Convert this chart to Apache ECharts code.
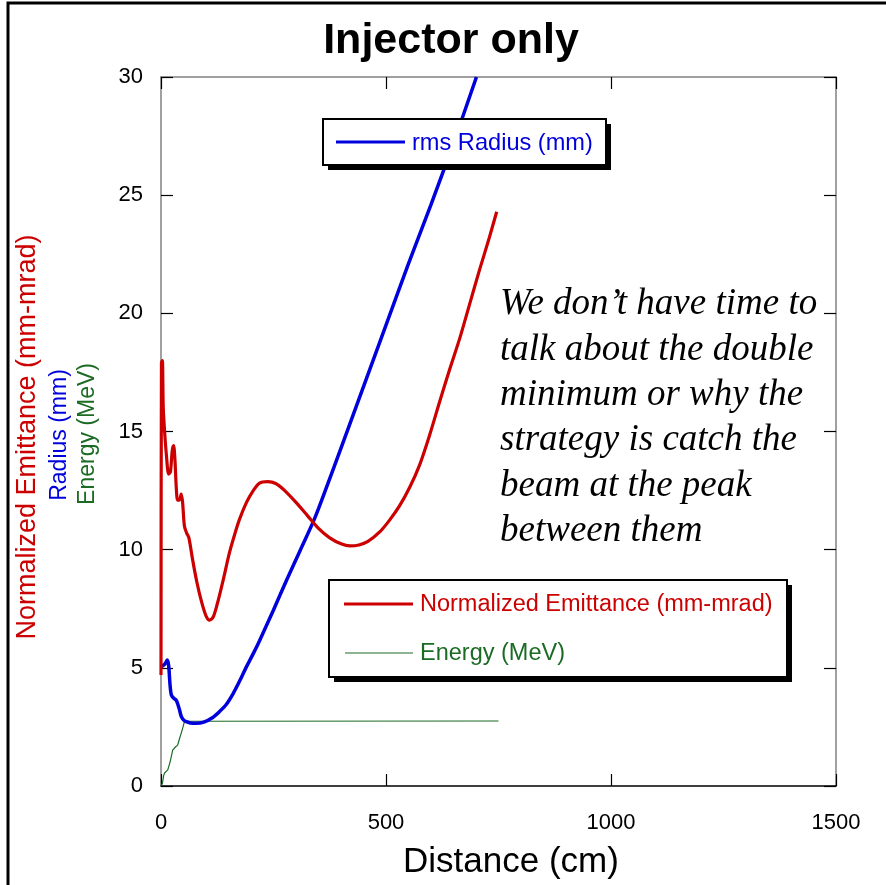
<!DOCTYPE html>
<html>
<head>
<meta charset="utf-8">
<script src="https://cdn.jsdelivr.net/npm/echarts@6/dist/echarts.min.js"></script>
<style>
html,body{margin:0;padding:0;background:#fff;}
#c{width:886px;height:885px;}
</style>
</head>
<body>
<div id="c"></div>
<script>
// ---- data (distance in cm, value) ----
var xTicks = [0, 500, 1000, 1500];
var yTicks = [0, 5, 10, 15, 20, 25, 30];

var emittance = [
  [0,4.7],[1,17.9],[3,18.0],[5,16.0],[8,15.0],[12,14.0],[17,13.2],[21,13.3],[25,14.2],[28,14.4],
  [31,13.8],[34,12.6],[37,12.1],[41,12.1],[45,12.35],[48,12.0],[52,11.0],[57,10.7],[62,10.5],
  [70,9.6],[80,8.6],[90,7.8],[100,7.2],[108,7.02],[116,7.15],[125,7.7],[138,8.7],[152,9.86],
  [163,10.6],[174,11.26],[190,12.0],[205,12.5],[219,12.82],[237,12.88],[255,12.8],[275,12.5],
  [300,12.0],[325,11.45],[350,10.9],[375,10.5],[400,10.25],[420,10.16],[440,10.2],[460,10.35],
  [486,10.75],[508,11.25],[530,11.85],[553,12.65],[575,13.6],[597,14.85],[619,16.25],[641,17.6],
  [664,18.95],[686,20.4],[708,21.85],[728,23.1],[746,24.3]
];
var radius = [
  [0,5.05],[5,5.1],[10,5.2],[14,5.33],[17,5.1],[20,4.3],[23,3.85],[28,3.72],[34,3.62],[40,3.3],
  [45,2.95],[50,2.8],[56,2.72],[65,2.67],[78,2.65],[95,2.7],[115,2.9],[130,3.15],[145,3.45],
  [160,3.9],[175,4.45],[190,5.05],[205,5.6],[219,6.15],[250,7.45],[280,8.75],[310,10.0],[341,11.3],
  [370,12.75],[400,14.3],[450,16.9],[500,19.5],[550,22.1],[600,24.6],[650,27.2],[701,30.0]
];
var energy = [
  [0,0],[3,0.1],[6,0.45],[8,0.55],[15,0.68],[20,1.0],[26,1.52],[32,1.65],[37,1.73],[41,2.0],
  [45,2.24],[49,2.5],[52,2.72],[60,2.74],[750,2.75]
];

var RED = '#CC0000', BLUE = '#0000DD', GREEN = '#1B6B24';
var SANS = 'Liberation Sans, Arial, sans-serif';
var SERIF = 'Liberation Serif, Times New Roman, serif';

var chart = echarts.init(document.getElementById('c'), null, {renderer: 'canvas'});

var gridL = 161, gridT = 77, gridW = 675, gridH = 709;

function legendBox(x, y, w, h) {
  return [
    {type: 'rect', z: 100, shape: {x: x + 5, y: y + 5, width: w, height: h}, style: {fill: '#000'}},
    {type: 'rect', z: 101, shape: {x: x, y: y, width: w, height: h}, style: {fill: '#fff', stroke: '#000', lineWidth: 2}}
  ];
}

var graphics = [].concat(
  [{type: 'rect', z: 0, silent: true, shape: {x: 8, y: 3, width: 900, height: 900}, style: {fill: 'none', stroke: '#000', lineWidth: 3}}],
  // title
  [{type: 'text', z: 110, x: 451, y: 41, style: {text: 'Injector only', font: 'bold 43px ' + SANS, fill: '#000', align: 'center', verticalAlign: 'middle'}}],
  // x axis name
  [{type: 'text', z: 110, x: 511, y: 862, style: {text: 'Distance (cm)', font: '35px ' + SANS, fill: '#000', align: 'center', verticalAlign: 'middle'}}],
  // y axis names (rotated)
  [{type: 'text', z: 110, x: 28, y: 437, rotation: Math.PI / 2, style: {text: 'Normalized Emittance (mm-mrad)', font: '27px ' + SANS, fill: RED, align: 'center', verticalAlign: 'middle'}},
   {type: 'text', z: 110, x: 60, y: 435, rotation: Math.PI / 2, style: {text: 'Radius (mm)', font: '23px ' + SANS, fill: BLUE, align: 'center', verticalAlign: 'middle'}},
   {type: 'text', z: 110, x: 88, y: 434, rotation: Math.PI / 2, style: {text: 'Energy (MeV)', font: '23px ' + SANS, fill: GREEN, align: 'center', verticalAlign: 'middle'}}],
  // legend 1
  legendBox(323, 119, 283, 46),
  [{type: 'line', z: 102, shape: {x1: 336, y1: 142, x2: 405, y2: 142}, style: {stroke: BLUE, lineWidth: 3}},
   {type: 'text', z: 102, x: 412, y: 143, style: {text: 'rms Radius (mm)', font: '23.6px ' + SANS, fill: BLUE, verticalAlign: 'middle'}}],
  // legend 2
  legendBox(329, 580, 458, 97),
  [{type: 'line', z: 102, shape: {x1: 344, y1: 604, x2: 413, y2: 604}, style: {stroke: RED, lineWidth: 3}},
   {type: 'text', z: 102, x: 420, y: 605, style: {text: 'Normalized Emittance (mm-mrad)', font: '23.5px ' + SANS, fill: RED, verticalAlign: 'middle'}},
   {type: 'line', z: 102, shape: {x1: 345, y1: 653, x2: 413, y2: 653}, style: {stroke: GREEN, lineWidth: 1}},
   {type: 'text', z: 102, x: 420, y: 654, style: {text: 'Energy (MeV)', font: '23.5px ' + SANS, fill: GREEN, verticalAlign: 'middle'}}],
  // annotation
  [{type: 'text', z: 110, x: 500, y: 282, style: {
     text: 'We don\u2019t have time to\ntalk about the double\nminimum or why the\nstrategy is catch the\nbeam at the peak\nbetween them',
     font: 'italic 37px ' + SERIF, fill: '#000', lineHeight: 45.3, verticalAlign: 'top'}}]
);

var axisCommon = {
  type: 'value', min: 0, splitLine: {show: false},
  axisTick: {show: true, inside: true, length: 12, lineStyle: {color: '#000', width: 1.2}},
  axisLine: {show: true, onZero: false, lineStyle: {color: '#808080', width: 1.5}}
};

var option = {
  animation: false,
  backgroundColor: '#fff',
  grid: {left: gridL, top: gridT, width: gridW, height: gridH, containLabel: false},
  xAxis: [
    Object.assign({}, axisCommon, {
      position: 'bottom', max: 1500, interval: 500,
      axisLine: {show: true, onZero: false, lineStyle: {color: '#000', width: 1.5}},
      axisLabel: {fontSize: 22, fontFamily: SANS, color: '#000', margin: 26,
        formatter: function (v) { return xTicks.indexOf(v) >= 0 ? String(v) : ''; }}
    }),
    Object.assign({}, axisCommon, {position: 'top', max: 1500, interval: 500, axisLabel: {show: false}})
  ],
  yAxis: [
    Object.assign({}, axisCommon, {
      position: 'left', max: 30, interval: 5,
      axisLabel: {fontSize: 22, fontFamily: SANS, color: '#000', margin: 18,
        formatter: function (v) { return yTicks.indexOf(v) >= 0 ? String(v) : ''; }}
    }),
    Object.assign({}, axisCommon, {position: 'right', max: 30, interval: 5, axisLabel: {show: false}})
  ],
  series: [
    {name: 'Energy (MeV)', type: 'line', data: energy, showSymbol: false, symbol: 'none', z: 3,
     lineStyle: {color: GREEN, width: 1.2}},
    {name: 'rms Radius (mm)', type: 'line', data: radius, showSymbol: false, symbol: 'none', smooth: 0.3, z: 4,
     lineStyle: {color: BLUE, width: 3.5}},
    {name: 'Normalized Emittance (mm-mrad)', type: 'line', data: emittance, showSymbol: false, symbol: 'none', smooth: 0.3, z: 5,
     lineStyle: {color: RED, width: 3.2}}
  ],
  graphic: graphics
};
chart.setOption(option);
</script>
</body>
</html>
